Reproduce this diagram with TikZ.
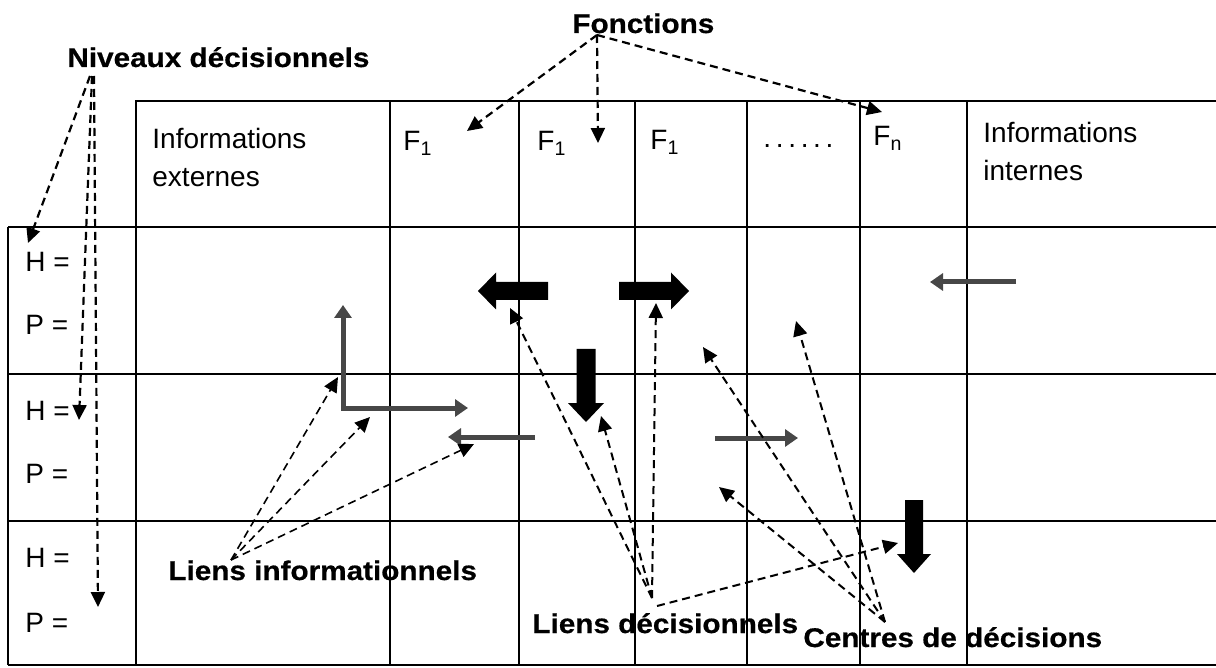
\documentclass[tikz,border=0pt]{standalone}
\usepackage{fontspec}
\setmainfont{Liberation Sans}
\newfontfamily\lblfont[FakeStretch=1.1,FakeBold=0.6]{Liberation Sans}
\usetikzlibrary{arrows.meta}

\begin{document}
\begin{tikzpicture}[x=0.5pt, y=-0.5pt,
    tableline/.style={line width=1pt},
    cell/.style={font=\fontsize{14}{19}\selectfont, inner sep=0pt},
    lbl/.style={font=\lblfont\bfseries\fontsize{13.5}{16}\selectfont, inner sep=0pt},
    pointer/.style={dash pattern=on 4pt off 2.5pt, line width=1pt, -{Triangle[length=7.5pt,width=7pt]}},
    infolink/.style={draw=black!72, line width=2.5pt, -{Triangle[length=6.5pt,width=8.5pt]}},
    infoboth/.style={draw=black!72, line width=2.5pt, {Triangle[length=6.5pt,width=8.5pt]}-{Triangle[length=6.5pt,width=8.5pt]}},
    decarrow/.style={fill=black}]
    \useasboundingbox (0,0) rectangle (1216,668);

    % Table
    % Header row and columns
    \draw[tableline] (136,665) -- (136,101) -- (1216,101);
    \draw[tableline] (390,101) -- (390,665);
    \draw[tableline] (519,101) -- (519,665);
    \draw[tableline] (635,101) -- (635,665);
    \draw[tableline] (747,101) -- (747,665);
    \draw[tableline] (860,101) -- (860,665);
    \draw[tableline] (967,101) -- (967,665);

    % Rows of the decision levels
    \draw[tableline] (8,227) -- (1216,227);
    \draw[tableline] (8,374) -- (1216,374);
    \draw[tableline] (8,521) -- (1216,521);
    \draw[tableline] (8,665) -- (1216,665);
    \draw[tableline] (8,227) -- (8,665);

    % Header texts
    \node[cell, anchor=north west, align=left] (infext) at (152,128) {Informations\\externes};
    \node[cell, anchor=base west] (fa) at (403,151) {F\textsubscript{1}};
    \node[cell, anchor=base west] (fb) at (537,151) {F\textsubscript{1}};
    \node[cell, anchor=base west] (fc) at (650,150) {F\textsubscript{1}};
    \node[cell, anchor=base west] (fdots) at (763,148) {.\,.\,.\,.\,.\,.};
    \node[cell, anchor=base west] (fn) at (873,146) {F\textsubscript{n}};
    \node[cell, anchor=north west, align=left] (infint) at (983,122) {Informations\\internes};

    % Left column
    \node[cell, anchor=base west] (ha) at (25,272) {H =};
    \node[cell, anchor=base west] (pa) at (25,335) {P =};
    \node[cell, anchor=base west] (hb) at (25,420) {H =};
    \node[cell, anchor=base west] (pb) at (25,483) {P =};
    \node[cell, anchor=base west] (hc) at (25,567) {H =};
    \node[cell, anchor=base west] (pc) at (25,632) {P =};

    % Informational links (grey)
    \draw[infoboth] (343,305) |- (468,408);
    \draw[infolink] (535,437) -- (448,437);
    \draw[infolink] (715,438) -- (798,438);
    \draw[infolink] (1016,282) -- (930,282);

    % Decisional links (black block arrows)
    \begin{scope}[shift={(548,291)}, rotate=180]
        \fill[decarrow] (0,-9) -- (52,-9) -- (52,-18.5) -- (70,0) -- (52,18.5) -- (52,9) -- (0,9) -- cycle;
    \end{scope}
    \begin{scope}[shift={(619,291)}]
        \fill[decarrow] (0,-9) -- (52,-9) -- (52,-18.5) -- (70,0) -- (52,18.5) -- (52,9) -- (0,9) -- cycle;
    \end{scope}
    \begin{scope}[shift={(586,349)}, rotate=-90]
        \fill[decarrow] (0,-9.5) -- (54,-9.5) -- (54,-18) -- (73,0) -- (54,18) -- (54,9.5) -- (0,9.5) -- cycle;
    \end{scope}
    \begin{scope}[shift={(914,500)}, rotate=-90]
        \fill[decarrow] (0,-9) -- (54,-9) -- (54,-17) -- (73,0) -- (54,17) -- (54,9) -- (0,9) -- cycle;
    \end{scope}

    % Labels
    \node[lbl, anchor=base west] (niv) at (67,67) {Niveaux décisionnels};
    \node[lbl, anchor=base west] (fonc) at (572,33) {Fonctions};
    \node[lbl, anchor=base west] (lieninf) at (168,580) {Liens informationnels};
    \node[lbl, anchor=base west] (liendec) at (532,633) {Liens décisionnels};
    \node[lbl, anchor=base west] (centres) at (803,647) {Centres de décisions};

    % Start and end points of the pointers
    \coordinate (niv-a) at (90,76);
    \coordinate (niv-b) at (92,76);
    \coordinate (niv-c) at (94,76);
    \coordinate (fonc-s) at (597,35);
    \coordinate (lieninf-s) at (231,560);
    \coordinate (liendec-s) at (652,598);
    \coordinate (liendec-r) at (657,606);
    \coordinate (centres-s) at (885,622);

    \coordinate (to-ha) at (28,243);
    \coordinate (to-hb) at (79,420);
    \coordinate (to-pc) at (98,607);
    \coordinate (to-fa) at (467,131);
    \coordinate (to-fb) at (598,143);
    \coordinate (to-fn) at (882,112);
    \coordinate (to-corner) at (338,377);
    \coordinate (to-right) at (370,417);
    \coordinate (to-left) at (474,444);
    \coordinate (to-dleft) at (510,308);
    \coordinate (to-ddown) at (601,416);
    \coordinate (to-dright) at (656,303);
    \coordinate (to-dlow) at (898,543);
    \coordinate (to-ca) at (703,347);
    \coordinate (to-cb) at (796,321);
    \coordinate (to-cc) at (719,487);

    % Pointers from the labels
    \draw[pointer, line width=1.1pt] (niv-a) -- (to-ha);
    \draw[pointer, line width=1.1pt] (niv-b) -- (to-hb);
    \draw[pointer, line width=1.1pt] (niv-c) -- (to-pc);

    \draw[pointer, line width=1.1pt] (fonc-s) -- (to-fa);
    \draw[pointer, line width=1.1pt] (fonc-s) -- (to-fb);
    \draw[pointer, line width=1.1pt] (fonc-s) -- (to-fn);

    \draw[pointer, line width=0.8pt] (lieninf-s) -- (to-corner);
    \draw[pointer, line width=0.8pt] (lieninf-s) -- (to-right);
    \draw[pointer, line width=0.8pt] (lieninf-s) -- (to-left);

    \draw[pointer] (liendec-s) -- (to-dleft);
    \draw[pointer] (liendec-s) -- (to-ddown);
    \draw[pointer] (liendec-s) -- (to-dright);
    \draw[pointer] (liendec-r) -- (to-dlow);

    \draw[pointer] (centres-s) -- (to-ca);
    \draw[pointer] (centres-s) -- (to-cb);
    \draw[pointer] (centres-s) -- (to-cc);
\end{tikzpicture}
\end{document}
